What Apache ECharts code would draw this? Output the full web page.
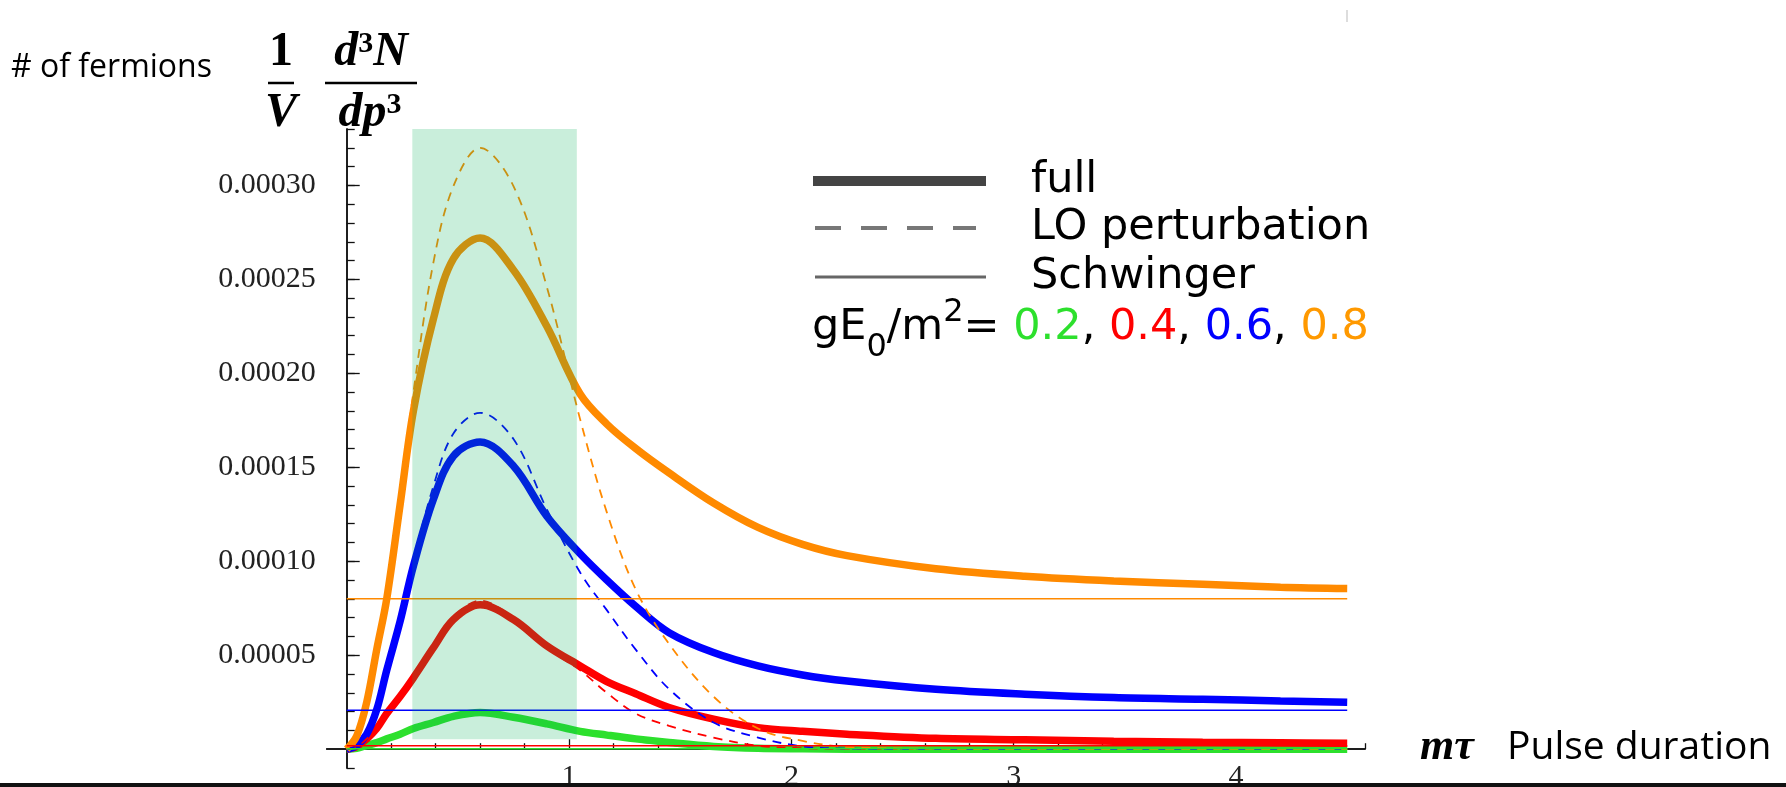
<!DOCTYPE html>
<html>
<head>
<meta charset="utf-8">
<script src="https://cdn.jsdelivr.net/npm/echarts@6/dist/echarts.min.js"></script>
<style>
  html, body { margin: 0; padding: 0; background: #fff; }
  #chart { width: 1786px; height: 787px; }
</style>
</head>
<body>
<div id="chart"></div>
<script>
// m*tau sample points (shared by all curves)
const xs = [0, 0.045, 0.09, 0.135, 0.18, 0.24, 0.3, 0.39, 0.48, 0.6, 0.75, 0.9, 1.05, 1.17, 1.3, 1.45, 1.65, 1.85, 2.05, 2.25, 2.65, 3.05, 3.45, 3.85, 4.2, 4.5];

// (1/V) d3N/dp3 in units of 1e-5
// full result
const full02 = [0, 0.05, 0.2, 0.35, 0.55, 0.8, 1.1, 1.42, 1.75, 1.95, 1.7, 1.35, 0.95, 0.75, 0.55, 0.36, 0.15, 0.05, 0.02, 0, 0, 0, 0, 0, 0, 0];
const full04 = [0, 0.15, 0.55, 1.1, 1.9, 2.8, 3.8, 5.4, 6.9, 7.68, 6.9, 5.5, 4.43, 3.6, 2.95, 2.22, 1.6, 1.15, 0.95, 0.8, 0.58, 0.5, 0.42, 0.37, 0.34, 0.32];
const full06 = [0, 0.2, 0.8, 2.1, 4.2, 6.8, 9.75, 13.3, 15.6, 16.35, 15.07, 12.4, 10.4, 9.0, 7.6, 6.2, 5.14, 4.43, 3.95, 3.63, 3.19, 2.93, 2.75, 2.66, 2.57, 2.5];
const full08 = [0, 0.7, 2.5, 5.3, 8.0, 13.0, 18.0, 22.9, 26.1, 27.2, 25.5, 22.5, 18.9, 17.3, 16.0, 14.7, 13.1, 11.8, 10.9, 10.3, 9.6, 9.2, 8.95, 8.78, 8.62, 8.55];
// LO perturbation
const lo02 = [0, 0.05, 0.2, 0.35, 0.55, 0.8, 1.1, 1.43, 1.78, 1.98, 1.72, 1.33, 0.9, 0.65, 0.42, 0.22, 0.07, 0.02, 0, 0, 0, 0, 0, 0, 0, 0];
const lo04 = [0, 0.15, 0.55, 1.1, 1.9, 2.8, 3.85, 5.6, 7.05, 7.9, 7.0, 5.4, 4.2, 3.0, 1.9, 1.24, 0.62, 0.18, 0.05, 0, 0, 0, 0, 0, 0, 0];
const lo06 = [0, 0.2, 0.8, 2.1, 4.2, 6.9, 10.0, 14.0, 16.8, 17.9, 16.5, 12.77, 9.4, 7.4, 5.3, 3.2, 1.42, 0.62, 0.15, 0.03, 0, 0, 0, 0, 0, 0];
const lo08 = [0, 0.7, 2.6, 5.6, 8.5, 13.5, 19.0, 25.9, 29.96, 32.0, 29.96, 24.6, 17.55, 12.6, 8.5, 5.6, 2.8, 1.1, 0.44, 0.12, 0.02, 0, 0, 0, 0, 0];
// Schwinger constant rates for gE0/m2 = 0.2, 0.4, 0.6, 0.8
const schwinger = [0.02, 0.18, 2.07, 8.0];
const schwingerRange = [0, 4.5];

const fieldLabels = ['0.2', '0.4', '0.6', '0.8'];
const colors = ['#2de02d', '#ff0000', '#0000ff', '#ff8a00'];

// shaded band: [x0, y0, x1, y1]
const shadeBox = [[0.295, 0.53, 1.035, 33.0]];

const yMajorTicks = [5, 10, 15, 20, 25, 30];
const xMinorTicks = [0.2, 0.4, 0.6, 0.8, 1.2, 1.4, 1.6, 1.8, 2.2, 2.4, 2.6, 2.8, 3.2, 3.4, 3.6, 3.8, 4.2, 4.4, 4.58];
const xMajorTicks = [1, 2, 3, 4];

const chart = echarts.init(document.getElementById('chart'));

const serif = '"Liberation Serif", "Times New Roman", serif';
const sans = '"Open Sans", "Noto Sans", sans-serif';
const legendFont = '"DejaVu Sans", Verdana, sans-serif';

const fullSets = [full02, full04, full06, full08];
const loSets = [lo02, lo04, lo06, lo08];

const series = [];
fullSets.forEach((ys, i) => {
  series.push({
    type: 'line', name: 'full ' + fieldLabels[i],
    data: xs.map((x, k) => [x, ys[k]]),
    showSymbol: false, smooth: 0.35, z: 2,
    lineStyle: { color: colors[i], width: 7.5 }
  });
});
loSets.forEach((ys, i) => {
  series.push({
    type: 'line', name: 'LO ' + fieldLabels[i],
    data: xs.map((x, k) => [x, ys[k]]),
    showSymbol: false, smooth: 0.35, z: 3,
    lineStyle: { color: colors[i], width: 1.8, type: [9, 7] }
  });
});
schwinger.forEach((v, i) => {
  series.push({
    type: 'line', name: 'Schwinger ' + fieldLabels[i],
    data: schwingerRange.map(x => [x, v]),
    showSymbol: false, z: 3,
    lineStyle: { color: colors[i], width: 1.5 }
  });
});
series.push({
  type: 'custom', name: 'shade', silent: true, z: 5,
  data: shadeBox,
  renderItem: (params, api) => {
    const p0 = api.coord([api.value(0), api.value(3)]);
    const p1 = api.coord([api.value(2), api.value(1)]);
    return {
      type: 'rect',
      shape: { x: p0[0], y: p0[1], width: p1[0] - p0[0], height: p1[1] - p0[1] },
      style: { fill: 'rgba(0,174,83,0.21)' }
    };
  }
});

const axisLine = { show: true, onZero: true, onZeroAxisIndex: 0, lineStyle: { color: '#111', width: 1.5 } };

const option = {
  animation: false,
  backgroundColor: '#fff',
  grid: { left: 326.7, right: 421, top: 129, bottom: 19, containLabel: false, outerBoundsMode: 'none' },
  xAxis: [
    {
      type: 'value', position: 'bottom', min: -0.09, max: 4.58,
      axisLine,
      axisTick: { show: true, inside: true, length: 6, customValues: xMinorTicks, lineStyle: { color: '#111', width: 1.3 } },
      axisLabel: { customValues: xMajorTicks, fontFamily: serif, fontSize: 30, color: '#222', margin: -6 },
      splitLine: { show: false }
    },
    {
      type: 'value', position: 'bottom', min: -0.09, max: 4.58,
      axisLine,
      axisTick: { show: true, inside: true, length: 10, customValues: xMajorTicks, lineStyle: { color: '#111', width: 1.3 } },
      axisLabel: { show: false },
      splitLine: { show: false }
    }
  ],
  yAxis: [
    {
      type: 'value', position: 'left', min: -1, max: 33,
      axisLine,
      axisTick: { show: true, inside: true, length: 13, customValues: yMajorTicks, lineStyle: { color: '#111', width: 1.3 } },
      axisLabel: {
        customValues: yMajorTicks, fontFamily: serif, fontSize: 30, color: '#222', margin: 11,
        formatter: v => (v * 1e-5).toFixed(5)
      },
      splitLine: { show: false }
    },
    {
      type: 'value', position: 'left', min: -1, max: 33, interval: 1,
      axisLine,
      axisTick: { show: true, inside: true, length: 8, lineStyle: { color: '#111', width: 1.3 } },
      axisLabel: { show: false },
      splitLine: { show: false }
    }
  ],
  graphic: {
    elements: [
      // y axis title
      { type: 'text', x: 11, y: 68, style: { text: '# of fermions', font: '32px ' + sans, fill: '#000', verticalAlign: 'middle' } },
      { type: 'text', x: 281, y: 53, style: { text: '1', font: 'bold 48px ' + serif, fill: '#000', align: 'center', verticalAlign: 'middle' } },
      { type: 'line', shape: { x1: 268, y1: 83, x2: 294, y2: 83 }, style: { stroke: '#000', lineWidth: 2.5 } },
      { type: 'text', x: 281, y: 114, style: { text: 'V', font: 'italic bold 48px ' + serif, fill: '#000', align: 'center', verticalAlign: 'middle' } },
      {
        type: 'text', x: 371, y: 53,
        style: {
          text: '{a|d}{s|3}{a|N}', align: 'center', verticalAlign: 'middle',
          rich: { a: { font: 'italic bold 48px ' + serif, fill: '#000' }, s: { font: 'bold 30px ' + serif, fill: '#000', verticalAlign: 'top' } }
        }
      },
      { type: 'line', shape: { x1: 325, y1: 83, x2: 417, y2: 83 }, style: { stroke: '#000', lineWidth: 2.5 } },
      {
        type: 'text', x: 370, y: 114,
        style: {
          text: '{a|dp}{s|3}', align: 'center', verticalAlign: 'middle',
          rich: { a: { font: 'italic bold 48px ' + serif, fill: '#000' }, s: { font: 'bold 30px ' + serif, fill: '#000', verticalAlign: 'top' } }
        }
      },
      // legend
      { type: 'line', shape: { x1: 813, y1: 181, x2: 986, y2: 181 }, style: { stroke: '#444', lineWidth: 10 } },
      { type: 'line', shape: { x1: 815, y1: 228, x2: 976, y2: 228 }, style: { stroke: '#777', lineWidth: 4, lineDash: [26, 20] } },
      { type: 'line', shape: { x1: 815, y1: 277, x2: 986, y2: 277 }, style: { stroke: '#666', lineWidth: 3 } },
      { type: 'text', x: 1031, y: 181, style: { text: 'full', font: '43px ' + legendFont, fill: '#000', verticalAlign: 'middle' } },
      { type: 'text', x: 1031, y: 228, style: { text: 'LO perturbation', font: '43px ' + legendFont, fill: '#000', verticalAlign: 'middle' } },
      { type: 'text', x: 1031, y: 277, style: { text: 'Schwinger', font: '43px ' + legendFont, fill: '#000', verticalAlign: 'middle' } },
      {
        type: 'text', x: 812, y: 328,
        style: {
          text: '{t|gE}{sub|0}{t|/m}{sup|2}{t|= }{c0|' + fieldLabels[0] + '}{t|, }{c1|' + fieldLabels[1] + '}{t|, }{c2|' + fieldLabels[2] + '}{t|, }{c3|' + fieldLabels[3] + '}',
          verticalAlign: 'middle',
          rich: {
            t: { font: '43px ' + legendFont, fill: '#000' },
            sub: { font: '32px ' + legendFont, fill: '#000', verticalAlign: 'bottom', padding: [0, 0, -14, 0] },
            sup: { font: '32px ' + legendFont, fill: '#000', verticalAlign: 'top', padding: [-10, 0, 0, 0] },
            c0: { font: '43px ' + legendFont, fill: colors[0] },
            c1: { font: '43px ' + legendFont, fill: colors[1] },
            c2: { font: '43px ' + legendFont, fill: colors[2] },
            c3: { font: '43px ' + legendFont, fill: '#ff9900' }
          }
        }
      },
      // x axis title
      { type: 'text', x: 1420, y: 748, style: { text: 'm\u03c4', font: 'italic bold 44px ' + serif, fill: '#000', verticalAlign: 'middle' } },
      { type: 'text', x: 1507, y: 748, style: { text: 'Pulse duration', font: '39px ' + sans, fill: '#000', verticalAlign: 'middle' } },
      // frame bits of the slide
      { type: 'rect', shape: { x: 0, y: 783, width: 1786, height: 4 }, style: { fill: '#111' }, z: 100 },
      { type: 'line', shape: { x1: 1347, y1: 10, x2: 1347, y2: 22 }, style: { stroke: '#bbb', lineWidth: 1 } }
    ]
  },
  series
};

chart.setOption(option);
</script>
</body>
</html>
